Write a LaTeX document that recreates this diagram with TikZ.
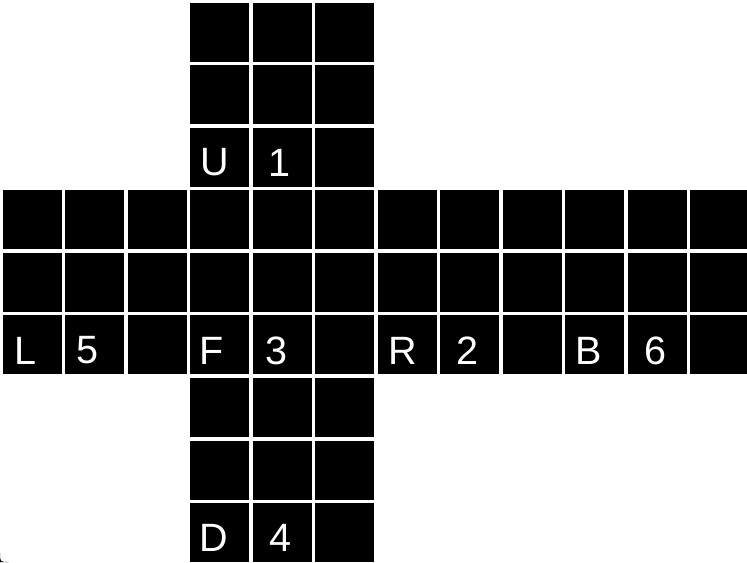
\documentclass[tikz,border=0pt]{standalone}
\usepackage{fontspec}
\setmainfont{Liberation Sans}
\begin{document}
\begin{tikzpicture}[x=0.02cm,y=-0.02cm,
  cellbox/.style={fill=black,draw=none,minimum width=59*0.02cm,minimum height=59*0.02cm,inner sep=0pt,anchor=north west},
  facelabel/.style={text=white,font=\fontsize{22.5}{22.5}\selectfont,inner sep=0pt,anchor=center}]
\useasboundingbox (0,0) rectangle (747,562);
\fill[white] (0,0) rectangle (747,562);
\begin{scope}
\clip (0,0) rectangle (747,562);
% upper and lower arms
\foreach \r in {0,1,2,6,7,8}{
  \foreach \c in {3,4,5}{
    \node[cellbox] (c\c-\r) at ({2.3+62.5*\c},{2.3+62.55*\r}) {};
  }
}
% middle band
\foreach \r in {3,4,5}{
  \foreach \c in {0,...,11}{
    \node[cellbox] (c\c-\r) at ({2.3+62.5*\c},{2.3+62.55*\r}) {};
  }
}
\end{scope}
% labels
\node[facelabel] (lu) at (214.5,162.5) {U};
\node[facelabel] (n1) at (279,162.5) {1};
\node[facelabel] (ll) at (25.5,350.5) {L};
\node[facelabel] (n5) at (87.5,350.5) {5};
\node[facelabel] (lf) at (211.5,350.5) {F};
\node[facelabel] (n3) at (276,350.5) {3};
\node[facelabel] (lr) at (402.5,350.5) {R};
\node[facelabel] (n2) at (467.5,350.5) {2};
\node[facelabel] (lb) at (589,350.5) {B};
\node[facelabel] (n6) at (655,350.5) {6};
\node[facelabel] (ld) at (214,537.5) {D};
\node[facelabel] (n4) at (280,537.5) {4};
% window corner artifact
\fill[black] (0,553) .. controls (0,562) .. (9,562) -- (0,562) -- cycle;
\end{tikzpicture}
\end{document}
